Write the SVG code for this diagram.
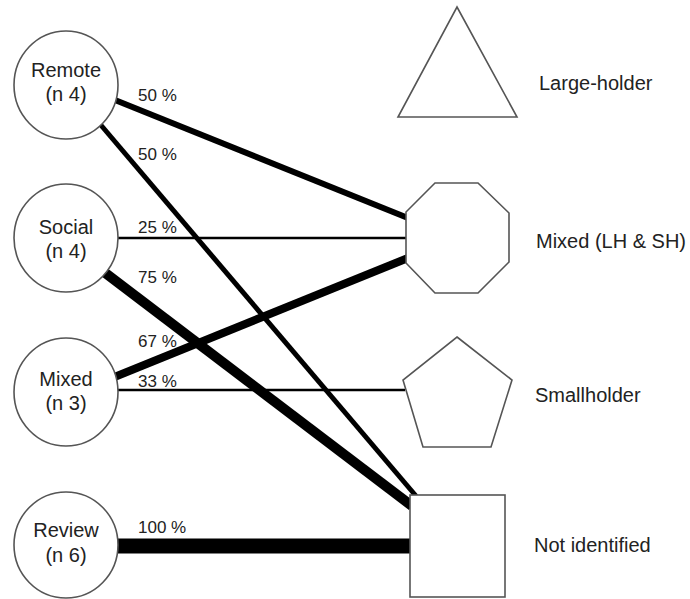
<svg xmlns="http://www.w3.org/2000/svg" width="690" height="599" viewBox="0 0 690 599">
<style>
.shape{fill:#fff;stroke:#555;stroke-width:1.6}
.nt{font-family:"Liberation Sans",Arial,sans-serif;font-size:20px;fill:#222;text-anchor:middle}
.lt{font-family:"Liberation Sans",Arial,sans-serif;font-size:20px;fill:#222}
.pct{font-family:"Liberation Sans",Arial,sans-serif;font-size:17px;fill:#222}
.c{stroke:#000;fill:none}
</style>
<rect width="690" height="599" fill="#fff"/>
<g id="connectors">
<line class="c" x1="110" y1="98" x2="408" y2="218" stroke-width="6"/>
<line class="c" x1="100" y1="124" x2="416" y2="496" stroke-width="5"/>
<line class="c" x1="117" y1="238" x2="408" y2="238" stroke-width="2.5"/>
<line class="c" x1="104" y1="272" x2="412" y2="506" stroke-width="10"/>
<line class="c" x1="112" y1="378" x2="408" y2="258" stroke-width="8"/>
<line class="c" x1="117" y1="390" x2="405" y2="390" stroke-width="2.5"/>
<line class="c" x1="115" y1="546" x2="412" y2="546" stroke-width="15"/>
<text class="pct" x="138" y="101">50 %</text>
<text class="pct" x="138" y="160">50 %</text>
<text class="pct" x="138" y="233">25 %</text>
<text class="pct" x="138" y="283">75 %</text>
<text class="pct" x="138" y="347">67 %</text>
<text class="pct" x="138" y="387">33 %</text>
<text class="pct" x="138" y="533">100 %</text>
</g>
<g id="remote">
<ellipse class="shape" cx="66" cy="85" rx="52" ry="54"/>
<text class="nt" x="66" y="77">Remote</text>
<text class="nt" x="66" y="101">(n 4)</text>
</g>
<g id="social">
<ellipse class="shape" cx="66" cy="238" rx="52" ry="54"/>
<text class="nt" x="66" y="234">Social</text>
<text class="nt" x="66" y="258">(n 4)</text>
</g>
<g id="mixed">
<ellipse class="shape" cx="66" cy="392" rx="52" ry="54"/>
<text class="nt" x="66" y="386">Mixed</text>
<text class="nt" x="66" y="410">(n 3)</text>
</g>
<g id="review">
<ellipse class="shape" cx="66" cy="545" rx="52" ry="53"/>
<text class="nt" x="66" y="537">Review</text>
<text class="nt" x="66" y="562">(n 6)</text>
</g>
<g id="large-holder">
<polygon class="shape" points="457,7 517,117 398,117"/>
<text class="lt" x="539" y="90">Large-holder</text>
</g>
<g id="mixed-lh-sh">
<polygon class="shape" points="435,183 478,183 509,213 509,262 478,293 435,293 406,263 406,212"/>
<text class="lt" x="536" y="248">Mixed (LH &amp; SH)</text>
</g>
<g id="smallholder">
<polygon class="shape" points="457,337 512,380 491,447 423,447 403,380"/>
<text class="lt" x="535" y="402">Smallholder</text>
</g>
<g id="not-identified">
<rect class="shape" x="410" y="495" width="95" height="102"/>
<text class="lt" x="534" y="552">Not identified</text>
</g>
</svg>
